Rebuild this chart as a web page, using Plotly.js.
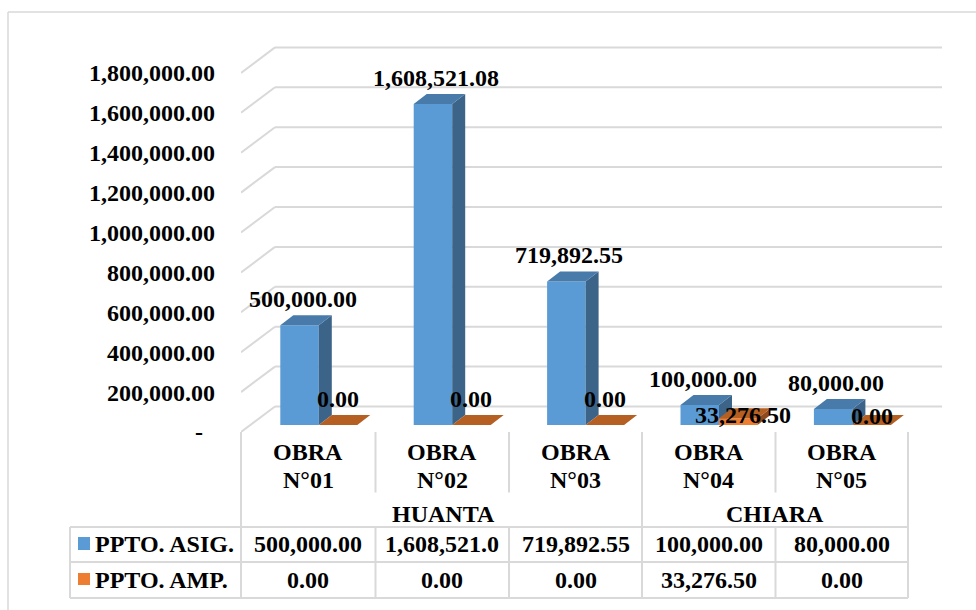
<!DOCTYPE html>
<html><head><meta charset="utf-8">
<script src="https://cdn.plot.ly/plotly-3.0.1.min.js"></script>
<style>html,body{margin:0;padding:0;background:#fff}</style></head>
<body><div id="chart" style="width:976px;height:610px"></div>
<script>
const obras = ["OBRA<br>N°01","OBRA<br>N°02","OBRA<br>N°03","OBRA<br>N°04","OBRA<br>N°05"];
const grupos = ["HUANTA","CHIARA"];
const asignado = [500000, 1608521.08, 719892.55, 100000, 80000];
const ampliado = [0, 0, 0, 33276.5, 0];
const serieNombres = ["PPTO. ASIG.","PPTO. AMP."];
const filaAsignado = ["500,000.00","1,608,521.0","719,892.55","100,000.00","80,000.00"];
const filaAmpliado = ["0.00","0.00","0.00","33,276.50","0.00"];
const yTicks = [0,200000,400000,600000,800000,1000000,1200000,1400000,1600000,1800000];
const yTickText = ["-\u00A0\u00A0","200,000.00","400,000.00","600,000.00","800,000.00","1,000,000.00","1,200,000.00","1,400,000.00","1,600,000.00","1,800,000.00"];

// pixel geometry of the frame
const W=976,H=610,L=241,R=942,T=40,B=432,colPx=133.4,valPerPx=200000/39.9;
const xMin=-0.5,xMax=xMin+(R-L)/colPx,yMax=(B-T)*valPerPx;
const px=v=>v/colPx, pv=v=>v*valPerPx;
const pX=x=>(x-L)/(R-L), pY=y=>(B-y)/(B-T);
const grid="#D9D9D9", fontFam="'Liberation Serif','Times New Roman',serif";
const barW=px(38.5), blueOff=px(39.3)-0.5, orangeOff=blueOff+barW, base=pv(7);
const depthX=px(13), depthY=pv(10), wallX=px(34), wallY=pv(25.5);
const idx=obras.map((_,i)=>i);

function faces(vals,off,kind){
  const xs=[],ys=[];
  vals.forEach((v,i)=>{
    const l=i+off,r=l+barW,t=v+base;
    if(kind==="top"){xs.push(l,l+depthX,r+depthX,r,l,null);ys.push(t,t+depthY,t+depthY,t,t,null);}
    else if(v>0){xs.push(r,r+depthX,r+depthX,r,r,null);ys.push(base,base+depthY,t+depthY,t,base,null);}
  });
  return {x:xs,y:ys};
}
function face(vals,off,kind,color,xa,ya){
  const f=faces(vals,off,kind);
  return {type:"scatter",mode:"lines",x:f.x,y:f.y,fill:"toself",fillcolor:color,line:{width:0,color:color},
    xaxis:xa,yaxis:ya,hoverinfo:"skip",showlegend:false,cliponaxis:false};
}
const fmt=v=>v.toLocaleString("en-US",{minimumFractionDigits:2,maximumFractionDigits:2});
const traces=[
  {type:"bar",name:serieNombres[0],x:idx,y:asignado,base:idx.map(()=>base),width:barW,offset:blueOff,marker:{color:"#5B9BD5"},xaxis:"x",yaxis:"y",showlegend:false},
  face(asignado,blueOff,"side","#3C6488","x","y"),
  face(asignado,blueOff,"top","#487BAA","x","y"),
  {type:"bar",name:serieNombres[1],x:idx,y:ampliado,base:idx.map(()=>base),width:barW,offset:orangeOff,marker:{color:"#ED7D31"},xaxis:"x2",yaxis:"y2",showlegend:false},
  face(ampliado,orangeOff,"side","#8E4A1C","x2","y2"),
  face(ampliado,orangeOff,"top","#B55F22","x2","y2")
];

const shapes=[],ann=[];
const line=(x0,y0,x1,y1,w)=>shapes.push({type:"line",xref:"paper",yref:"paper",x0:pX(x0),y0:pY(y0),x1:pX(x1),y1:pY(y1),line:{color:grid,width:w||2},layer:"below"});
// outer frame
line(8,12,W,12,1.5); line(8,12,8,H,1.5);
// gridlines: wall + back plane, from the tick values
yTicks.forEach(v=>{
  shapes.push({type:"line",xref:"x",yref:"y",x0:xMin,y0:v,x1:xMin+wallX,y1:v+wallY,line:{color:grid,width:2},layer:"below"});
  shapes.push({type:"line",xref:"x",yref:"y",x0:xMin+wallX,y0:v+wallY,x1:xMax,y1:v+wallY,line:{color:grid,width:2},layer:"below"});
});
// table frame
const colX=[241,375.5,509,642,775.5,908];
[241,642,908].forEach(x=>line(x,432,x,527));
[375.5,509,775.5].forEach(x=>line(x,432,x,492.5));
[70,...colX].forEach(x=>line(x,527,x,598));
[527,562,598].forEach(y=>line(70,y,908,y));
// legend swatches
[["#5B9BD5",537,550],["#ED7D31",573,585]].forEach(s=>shapes.push({type:"rect",xref:"paper",yref:"paper",x0:pX(78),x1:pX(90),y0:pY(s[1]),y1:pY(s[2]),fillcolor:s[0],line:{width:0}}));

const tf={family:fontFam,size:24,color:"#000",weight:700};
const pText=(x,y,t,anchor)=>ann.push({xref:"paper",yref:"paper",x:pX(x),y:pY(y),text:t,showarrow:false,xanchor:anchor||"center",yanchor:"middle",font:tf,borderpad:0});
obras.forEach((o,i)=>{
  const c=(colX[i]+colX[i+1])/2;
  const p=o.split("<br>");
  pText(c,451.5,p[0]); pText(c,479.5,p[1]);
  pText(c,543.5,filaAsignado[i]); pText(c,579.5,filaAmpliado[i]);
});
pText(443,513.5,grupos[0]); pText(775,513.5,grupos[1]);
pText(94,543.5,serieNombres[0],"left"); pText(94,579.5,serieNombres[1],"left");
// data labels: moved by hand in the original where they sit on the bars
const liftAmp=v=>v>0?3:26;
asignado.forEach((v,i)=>ann.push({xref:"x",yref:"y",x:i+blueOff+barW/2,y:v+base,xshift:3,yshift:26.5,text:fmt(v),showarrow:false,xanchor:"center",yanchor:"middle",font:tf,borderpad:0}));
ampliado.forEach((v,i)=>ann.push({xref:"x",yref:"y",x:i+orangeOff+barW/2,y:v+base,xshift:v>0?5:0,yshift:i===4?9:liftAmp(v),text:fmt(v),showarrow:false,xanchor:"center",yanchor:"middle",font:tf,borderpad:0}));

const layout={width:W,height:H,margin:{l:L,r:W-R,t:T,b:H-B,pad:0},paper_bgcolor:"#fff",plot_bgcolor:"rgba(0,0,0,0)",showlegend:false,
  barmode:"overlay",font:{family:fontFam},
  xaxis:{range:[xMin,xMax],visible:false,fixedrange:true},
  xaxis2:{range:[xMin,xMax],visible:false,overlaying:"x",fixedrange:true},
  yaxis:{range:[0,yMax],tickmode:"array",tickvals:yTicks,ticktext:yTickText,tickfont:tf,ticks:"",showgrid:false,zeroline:false,showline:false,ticklabelstandoff:25,fixedrange:true},
  yaxis2:{range:[0,yMax],visible:false,overlaying:"y",fixedrange:true},
  shapes:shapes,annotations:ann};
Plotly.newPlot("chart",traces,layout,{displayModeBar:false,staticPlot:true});
</script></body></html>
